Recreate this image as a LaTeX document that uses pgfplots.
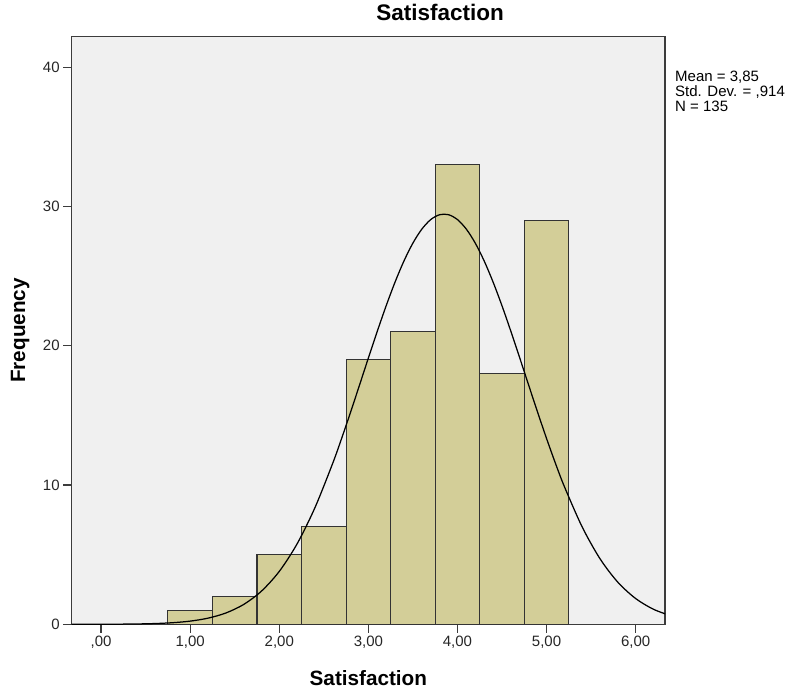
\documentclass[border=0pt]{standalone}
\usepackage{fontspec}
\setmainfont{Liberation Sans}
\usepackage{pgfplots}
\pgfplotsset{compat=1.18}
\definecolor{bgcol}{RGB}{240,240,240}
\definecolor{barcol}{RGB}{211,206,152}
\definecolor{axcol}{RGB}{60,60,60}
\begin{document}
\begin{tikzpicture}
\useasboundingbox (0,0) rectangle (791bp,696bp);
\begin{axis}[
  at={(71.7bp,71.7bp)}, anchor=south west,
  scale only axis, width=593.3bp, height=587.6bp,
  xmin=-0.33, xmax=6.33, ymin=0, ymax=42.2,
  axis background/.style={fill=bgcol},
  axis line style={draw=axcol, line width=1.2bp},
  xtick={0,1,2,3,4,5,6},
  xticklabels={{,00},{1,00},{2,00},{3,00},{4,00},{5,00},{6,00}},
  ytick={0,10,20,30,40},
  xtick pos=bottom, ytick pos=left,
  tick align=outside, major tick length=8.5bp,
  tick style={draw=axcol, line width=1.2bp},
  /pgf/number format/assume math mode=true,
  ticklabel style={font=\fontsize{15bp}{18bp}\selectfont, text=black!85},
  title={Satisfaction},
  title style={at={(axis description cs:0.621,1.0182)}, anchor=base, font=\fontsize{22.5bp}{26bp}\selectfont\bfseries},
  xlabel={Satisfaction},
  xlabel style={at={(axis description cs:0.5,-0.105)}, anchor=base, font=\fontsize{20.7bp}{24bp}\selectfont\bfseries},
  ylabel={Frequency},
  ylabel style={at={(axis description cs:-0.0787,0.5)}, anchor=base, font=\fontsize{20.7bp}{24bp}\selectfont\bfseries},
]
\addplot[ybar interval, fill=barcol, draw=black!80, line width=1.1bp] coordinates {
  (0.75,1) (1.25,2) (1.75,5) (2.25,7) (2.75,19) (3.25,21) (3.75,33) (4.25,18) (4.75,29) (5.25,0)
};
\addplot[smooth, black, line width=1.25bp, mark=none] coordinates {
  (-0.4,0.0006) (-0.2,0.0016) (0,0.0041) (0.2,0.0101) (0.4,0.0237) (0.6,0.0529) (0.8,0.1125)
  (1.0,0.228) (1.2,0.4405) (1.4,0.8107) (1.6,1.4235) (1.8,2.381) (2.0,3.799) (2.2,5.776)
  (2.4,8.370) (2.6,11.564) (2.7,13.350) (2.8,15.229) (2.9,17.165) (3.0,19.118) (3.1,21.038)
  (3.2,22.878) (3.3,24.581) (3.4,26.097) (3.5,27.377) (3.6,28.378) (3.7,29.066)
  (3.8,29.416) (3.9,29.416) (4.0,29.066) (4.1,28.378) (4.2,27.377) (4.3,26.097) (4.4,24.581)
  (4.5,22.878) (4.6,21.038) (4.7,19.118) (4.8,17.165) (4.9,15.229) (5.0,13.350) (5.1,11.564)
  (5.2,9.897) (5.4,6.994) (5.6,4.712) (5.8,3.026) (6.0,1.852) (6.2,1.081) (6.4,0.601)
};
\end{axis}
\node[anchor=base west, inner sep=0, font=\fontsize{15bp}{15bp}\selectfont] at (675bp,614.3bp) {Mean = 3,85};
\node[anchor=base west, inner sep=0, font=\fontsize{15bp}{15bp}\selectfont] at (675bp,599.3bp) {Std. Dev. = ,914};
\node[anchor=base west, inner sep=0, font=\fontsize{15bp}{15bp}\selectfont] at (675bp,584.3bp) {N = 135};
\end{tikzpicture}
\end{document}
